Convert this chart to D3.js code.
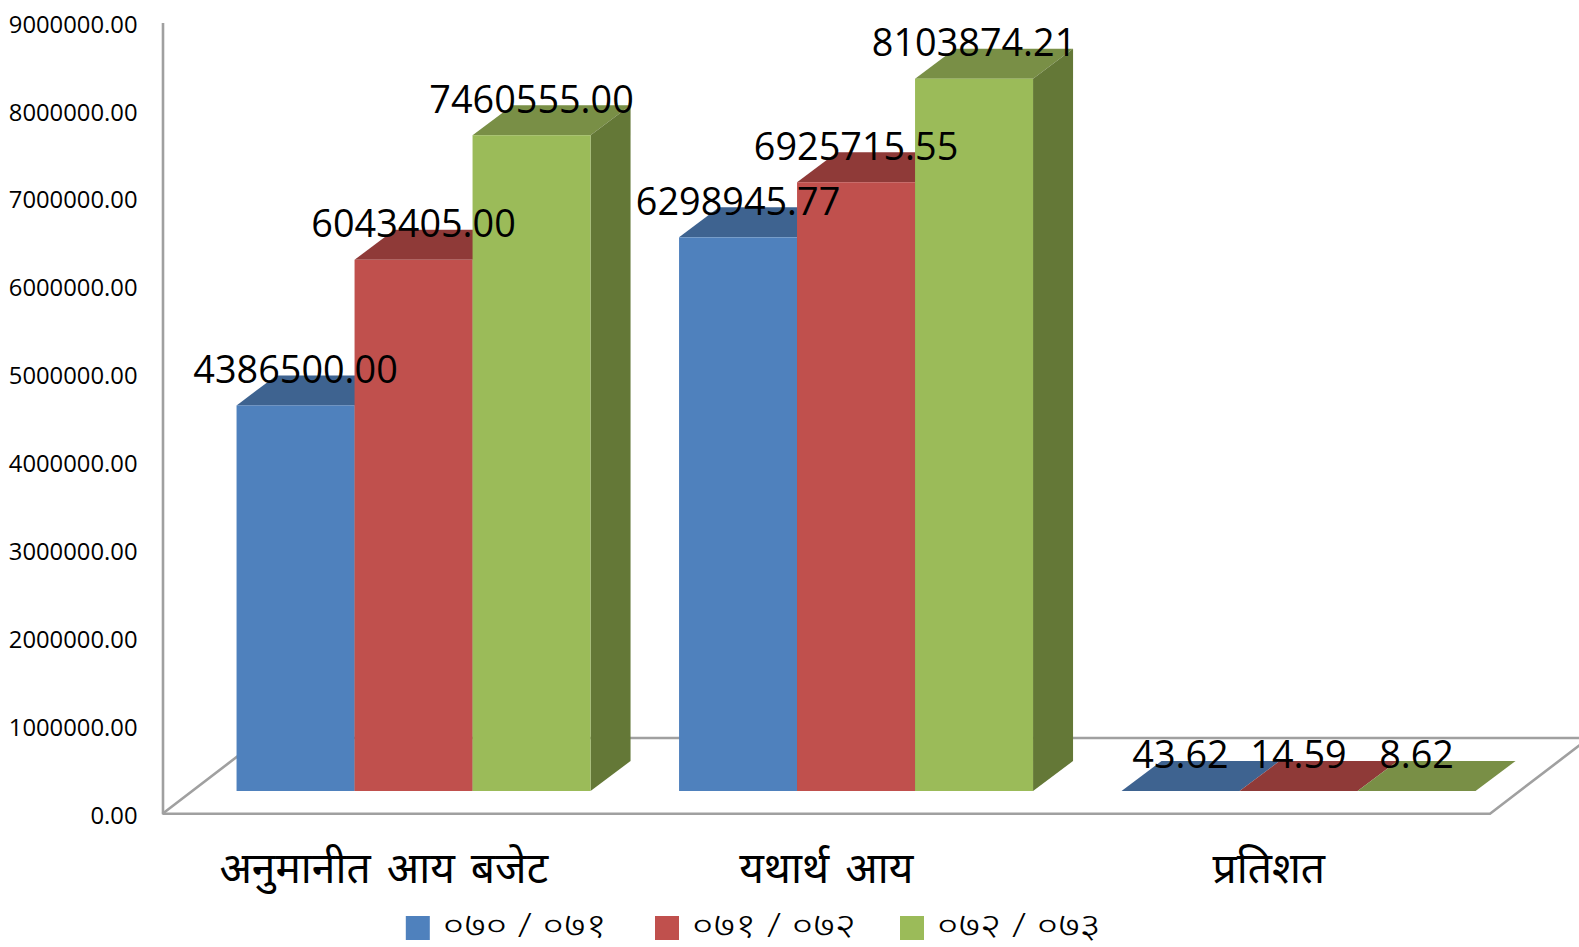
<!DOCTYPE html>
<html>
<head>
<meta charset="utf-8" />
<title>आय तुलना</title>
<script src="https://cdn.jsdelivr.net/npm/d3@7"></script>
<style>
body { margin: 0; background: #fff; overflow: hidden; }
svg { display: block; }
text { fill: #000; font-family: "Open Sans", "Noto Sans", sans-serif; }
</style>
</head>
<body>
<script>
var categories = ["अनुमानीत आय बजेट", "यथार्थ आय", "प्रतिशत"];
var years = ["०७० / ०७१", "०७१ / ०७२", "०७२ / ०७३"];
var values2070 = [4386500.00, 6298945.77, 43.62];
var values2071 = [6043405.00, 6925715.55, 14.59];
var values2072 = [7460555.00, 8103874.21, 8.62];
var yTicks = [0, 1000000, 2000000, 3000000, 4000000, 5000000, 6000000, 7000000, 8000000, 9000000];
var front = ["#4f81bd", "#c0504d", "#9bbb59"];
var topFace = ["#3e6390", "#8f3a38", "#798f46"];
var sideFace = ["#355379", "#7a3230", "#647837"];

var width = 1579, height = 947;
var floorLeft = 162.5, floorRight = 1490, floorY = 813.7;
var floorDx = 99, floorDy = 75.7;   // depth of the floor
var barDx = 40, barDy = 30;         // depth of a bar
var shiftX = 29.8, shiftY = 22.7;   // bars stand this far back on the floor

var svg = d3.select("body").append("svg").attr("width", width).attr("height", height);

var xScale = d3.scaleBand().domain(categories).range([floorLeft, floorRight]).paddingInner(0.2).paddingOuter(0.1);
var xSeries = d3.scaleBand().domain(d3.range(years.length)).range([0, xScale.bandwidth()]);
var yScale = d3.scaleLinear().domain([0, 9000000]).range([floorY, 22.6]);

var allValues = [values2070, values2071, values2072];

// floor
var wall = "#a0a0a0";
var floor = svg.append("g").attr("fill", "none").attr("stroke", wall).attr("stroke-width", 2.6);
floor.append("path").attr("d", d3.line()([
	[floorLeft, floorY], [floorLeft + floorDx, floorY - floorDy], [width + 20, floorY - floorDy]
]));
floor.append("path").attr("d", d3.line()([
	[floorLeft, floorY], [floorRight, floorY], [floorRight + floorDx, floorY - floorDy]
]));

// y axis
var yAxis = svg.append("g")
	.attr("transform", "translate(" + floorLeft + ",0)")
	.call(d3.axisLeft(yScale).tickValues(yTicks).tickFormat(d3.format(".2f")).tickSize(0).tickPadding(25));
yAxis.select(".domain").attr("stroke", wall).attr("stroke-width", 2.6);
yAxis.selectAll("text").attr("font-size", 23.8).attr("dy", "0.4em")
	.style("font-family", '"Open Sans", sans-serif');

// bars
var poly = d3.line();
categories.forEach(function(cat, c) {
	var g = svg.append("g");
	allValues.forEach(function(vals, s) {
		var x0 = xScale(cat) + xSeries(s) + shiftX;
		var x1 = x0 + xSeries.bandwidth();
		var y0 = floorY - shiftY;
		var y1 = yScale(vals[c]) - shiftY;
		g.append("path").attr("fill", topFace[s])
			.attr("d", poly([[x0, y1], [x1, y1], [x1 + barDx, y1 - barDy], [x0 + barDx, y1 - barDy]]) + "Z");
		g.append("path").attr("fill", sideFace[s])
			.attr("d", poly([[x1, y0], [x1, y1], [x1 + barDx, y1 - barDy], [x1 + barDx, y0 - barDy]]) + "Z");
		g.append("rect").attr("fill", front[s])
			.attr("x", x0).attr("y", y1).attr("width", x1 - x0).attr("height", y0 - y1);
	});
});

// value labels go over everything
categories.forEach(function(cat, c) {
	allValues.forEach(function(vals, s) {
		svg.append("text")
			.attr("class", "value")
			.attr("x", xScale(cat) + xSeries(s) + xSeries.bandwidth() / 2 + shiftX)
			.attr("y", yScale(vals[c]) - shiftY - 22.5)
			.attr("text-anchor", "middle")
			.attr("font-size", 37.8)
			.text(d3.format(".2f")(vals[c]));
	});
});

// category labels
svg.selectAll(".cat").data(categories).enter().append("text")
	.attr("class", "cat")
	.attr("x", function(d) { return xScale(d) + xScale.bandwidth() / 2; })
	.attr("y", 882.5)
	.attr("text-anchor", "middle")
	.attr("font-size", 42.5)
	.attr("word-spacing", 5)
	.text(function(d) { return d; });

// legend
var legendX = d3.scaleOrdinal().domain(years).range([405.8, 655, 900]);
var legend = svg.selectAll(".legend").data(years).enter().append("g")
	.attr("class", "legend")
	.attr("transform", function(d) { return "translate(" + legendX(d) + ",916)"; });
legend.append("rect").attr("width", 24).attr("height", 24)
	.attr("fill", function(d, i) { return front[i]; });
legend.append("text").attr("x", 37).attr("y", 21).attr("font-size", 33)
	.attr("font-weight", 300)
	.attr("textLength", 164).attr("lengthAdjust", "spacingAndGlyphs")
	.text(function(d) { return d; });
</script>
</body>
</html>
